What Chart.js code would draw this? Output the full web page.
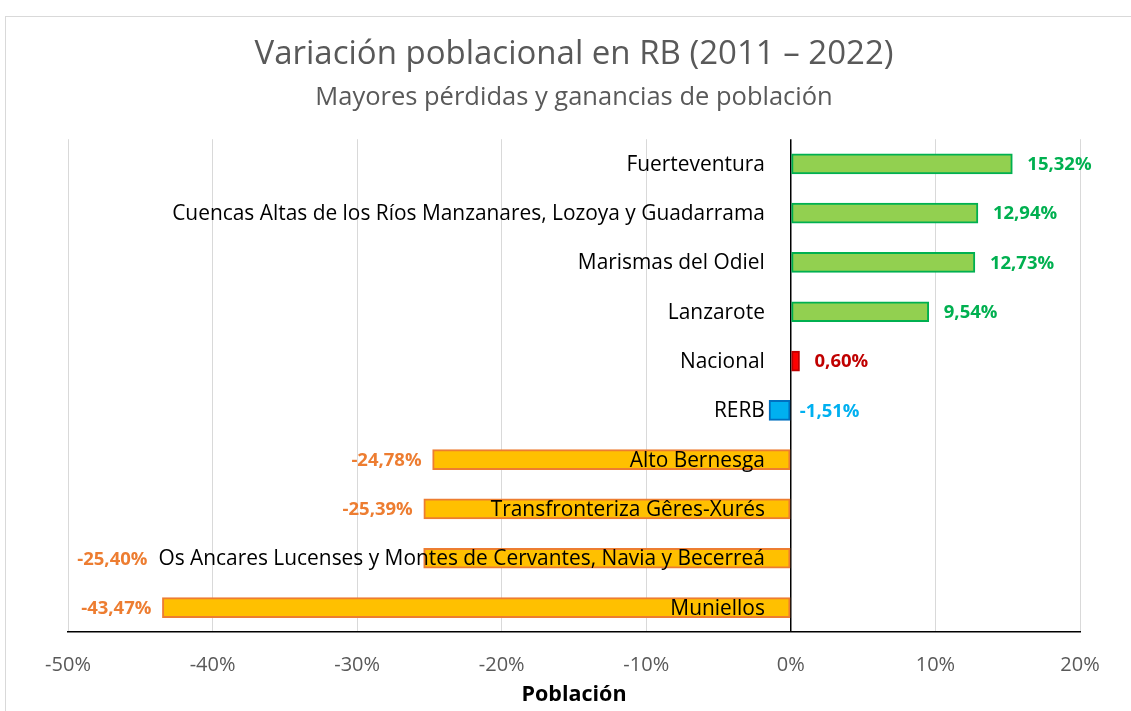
<!DOCTYPE html>
<html>
<head>
<meta charset="utf-8">
<script src="https://cdn.jsdelivr.net/npm/chart.js@4/dist/chart.umd.min.js"></script>
<style>
  html, body { margin: 0; padding: 0; background: #fff; overflow: hidden; }
  #frame { position: absolute; left: 5px; top: 16px; width: 1300px; height: 900px; border: 1px solid #d9d9d9; }
  #wrap { position: absolute; left: 0; top: 0; width: 1131px; height: 711px; }
</style>
</head>
<body>
<div id="frame"></div>
<div id="wrap"><canvas id="chart"></canvas></div>
<script>
const categories = [
  'Fuerteventura',
  'Cuencas Altas de los Ríos Manzanares, Lozoya y Guadarrama',
  'Marismas del Odiel',
  'Lanzarote',
  'Nacional',
  'RERB',
  'Alto Bernesga',
  'Transfronteriza Gêres-Xurés',
  'Os Ancares Lucenses y Montes de Cervantes, Navia y Becerreá',
  'Muniellos'
];
const variation = [15.32, 12.94, 12.73, 9.54, 0.60, -1.51, -24.78, -25.39, -25.40, -43.47];
const groups = ['gain', 'gain', 'gain', 'gain', 'national', 'rerb', 'loss', 'loss', 'loss', 'loss'];
const xTicks = [-50, -40, -30, -20, -10, 0, 10, 20];

// colores al estilo Excel
const fillColor = { gain: '#92D050', national: '#FF0000', rerb: '#00B0F0', loss: '#FFC000' };
const lineColor = { gain: '#00B050', national: '#C00000', rerb: '#0070C0', loss: '#ED7D31' };
const textColor = { gain: '#00B050', national: '#C00000', rerb: '#00B0F0', loss: '#ED7D31' };

const FONT = '"Open Sans", "Noto Sans", sans-serif';
const fmt = v => v.toFixed(2).replace('.', ',') + '%';

// etiquetas de categoría junto al eje y etiquetas de valor
const labelsPlugin = {
  id: 'barLabels',
  afterDatasetsDraw(chart) {
    const ctx = chart.ctx;
    const x = chart.scales.x, y = chart.scales.y;
    const zero = x.getPixelForValue(0);
    ctx.save();
    ctx.textBaseline = 'middle';
    categories.forEach((name, i) => {
      const cy = y.getPixelForValue(i) + 1;
      const v = variation[i];
      ctx.font = '20.9px ' + FONT;
      ctx.fillStyle = '#000';
      ctx.textAlign = 'right';
      const labelEnd = zero - 26;
      ctx.fillText(name, labelEnd, cy);
      const labelStart = labelEnd - ctx.measureText(name).width;

      const barEnd = x.getPixelForValue(v);
      ctx.font = 'bold 18.5px ' + FONT;
      ctx.fillStyle = textColor[groups[i]];
      if (v >= 0) {
        ctx.textAlign = 'left';
        ctx.fillText(fmt(v), barEnd + 15, cy);
      } else if (barEnd > labelEnd) {
        // barra muy corta: etiqueta a la derecha del eje
        ctx.textAlign = 'left';
        ctx.fillText(fmt(v), zero + 9, cy);
      } else {
        ctx.textAlign = 'right';
        ctx.fillText(fmt(v), Math.min(barEnd, labelStart) - 11, cy);
      }
    });
    ctx.restore();
  }
};

new Chart(document.getElementById('chart'), {
  type: 'bar',
  data: {
    labels: categories,
    datasets: [{
      data: variation,
      backgroundColor: groups.map(g => fillColor[g]),
      borderColor: groups.map(g => lineColor[g]),
      borderWidth: 2,
      borderSkipped: false,
      barThickness: 20
    }]
  },
  options: {
    indexAxis: 'y',
    responsive: true,
    maintainAspectRatio: false,
    animation: false,
    layout: { padding: { left: 68, right: 51, top: 0, bottom: 3 } },
    plugins: {
      legend: { display: false },
      tooltip: { enabled: false },
      title: {
        display: true,
        text: 'Variación poblacional en RB (2011 – 2022)',
        color: '#595959',
        font: { family: FONT, size: 33, weight: 'normal' },
        padding: { top: 35, bottom: 8 }
      },
      subtitle: {
        display: true,
        text: 'Mayores pérdidas y ganancias de población',
        color: '#595959',
        font: { family: FONT, size: 25.5, weight: 'normal' },
        padding: { top: 0, bottom: 26 }
      }
    },
    scales: {
      x: {
        min: -50,
        max: 20,
        afterBuildTicks: s => { s.ticks = xTicks.map(v => ({ value: v })); },
        ticks: {
          color: '#595959',
          font: { family: FONT, size: 20 },
          padding: 21,
          callback: v => v + '%'
        },
        grid: {
          color: c => c.tick && c.tick.value === 0 ? '#000' : '#d9d9d9',
          lineWidth: c => c.tick && c.tick.value === 0 ? 1.5 : 1,
          drawTicks: false
        },
        border: { display: true, color: '#000', width: 1.5 },
        title: {
          display: true,
          text: 'Población',
          color: '#000',
          font: { family: FONT, size: 21.5, weight: 'bold' },
          padding: { top: -16, bottom: 0 }
        }
      },
      y: {
        display: false,
        grid: { display: false }
      }
    }
  },
  plugins: [labelsPlugin]
});
</script>
</body>
</html>
